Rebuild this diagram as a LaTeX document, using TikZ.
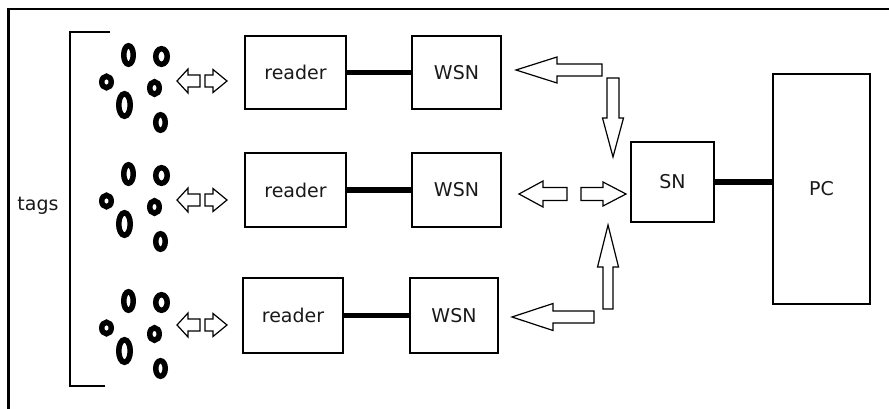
\documentclass[tikz,border=0pt]{standalone}
\usepackage{fontspec}
\setmainfont{DejaVu Sans}
\usetikzlibrary{shapes.geometric}

% outlined block arrows: tail, head base, tip along the axis; position across; head and body half widths
\newcommand{\harrow}[6]{\draw[blockarrow] (#1,#4-#6) -- (#2,#4-#6) -- (#2,#4-#5) -- (#3,#4) -- (#2,#4+#5) -- (#2,#4+#6) -- (#1,#4+#6) -- cycle;}
\newcommand{\varrow}[6]{\draw[blockarrow] (#4-#6,#1) -- (#4-#6,#2) -- (#4-#5,#2) -- (#4,#3) -- (#4+#5,#2) -- (#4+#6,#2) -- (#4+#6,#1) -- cycle;}

\tikzset{
  box/.style={draw, line width=1.5pt, inner sep=0pt, font=\fontsize{19}{22}\selectfont, text=black!90},
  label/.style={inner sep=0pt, font=\fontsize{19}{22}\selectfont, text=black!90},
  link/.style={line width=5.5pt},
  frame/.style={line width=2.8pt},
  bracket/.style={line width=1.6pt},
  blockarrow/.style={draw, fill=white, line width=1.2pt, line join=miter},
  tag/.style={ellipse, draw, line width=5.5pt, inner sep=0pt}
}

\begin{document}
\begin{tikzpicture}[x=1pt,y=-1pt]
\useasboundingbox (0,0) rectangle (889,409);

% outer frame (top and left edges)
\draw[frame] (8.5,409) -- (8.5,9) -- (889,9);

% bracket grouping the tags
\draw[bracket] (110,32) -- (70,32) -- (70,386) -- (105,386);
\node[label] (tags) at (38,206) {tags};

% three clusters of tags
\foreach \r/\dy in {1/0, 2/119, 3/246} {
  \node[tag, minimum width=9.5, minimum height=18.5] (t\r a) at (128.5,55+\dy) {};
  \node[tag, minimum width=11.5, minimum height=15.5] (t\r b) at (161.5,56.5+\dy) {};
  \node[tag, minimum width=9.5, minimum height=11.5] (t\r c) at (106.5,82+\dy) {};
  \node[tag, minimum width=11.5, minimum height=22.5] (t\r d) at (124.5,105+\dy) {};
  \node[tag, minimum width=9.5, minimum height=12.5] (t\r e) at (154.5,88+\dy) {};
  \node[tag, minimum width=9.5, minimum height=15.5] (t\r f) at (160.5,122.5+\dy) {};
}

% double arrows between tags and readers
\foreach \y in {81, 200, 325} {
  \harrow{200}{188}{177}{\y}{12}{6}
  \harrow{205}{213}{227}{\y}{11.5}{6}
}

% readers and WSN nodes
\node[box, minimum width=101, minimum height=73] (r1) at (295.5,72.5) {reader};
\node[box, minimum width=101, minimum height=74] (r2) at (295.5,190) {reader};
\node[box, minimum width=100, minimum height=75] (r3) at (293,315.5) {reader};
\node[box, minimum width=89, minimum height=73] (w1) at (456.5,72.5) {WSN};
\node[box, minimum width=89, minimum height=74] (w2) at (456.5,190) {WSN};
\node[box, minimum width=88, minimum height=75] (w3) at (454,315.5) {WSN};

% sink node and PC
\node[box, minimum width=83, minimum height=80] (sn) at (672.5,182) {SN};
\node[box, minimum width=97, minimum height=230] (pc) at (821.5,189) {PC};

% wired links
\draw[link] (r1.east) -- (w1.west);
\draw[link] (r2.east) -- (w2.west);
\draw[link] (r3.east) -- (w3.west);
\draw[link] (sn.east) -- (sn.east -| pc.west);

% wireless traffic between WSN nodes and SN
\harrow{602}{557}{516}{70}{13}{6}
\varrow{78}{118}{157}{613}{10.5}{6}
\harrow{567}{543}{519}{194}{13}{6.5}
\harrow{581}{603}{626}{194}{12}{6.5}
\harrow{594}{553}{512}{317}{13.5}{6}
\varrow{309}{267}{225}{608}{10.5}{5}
\end{tikzpicture}
\end{document}
